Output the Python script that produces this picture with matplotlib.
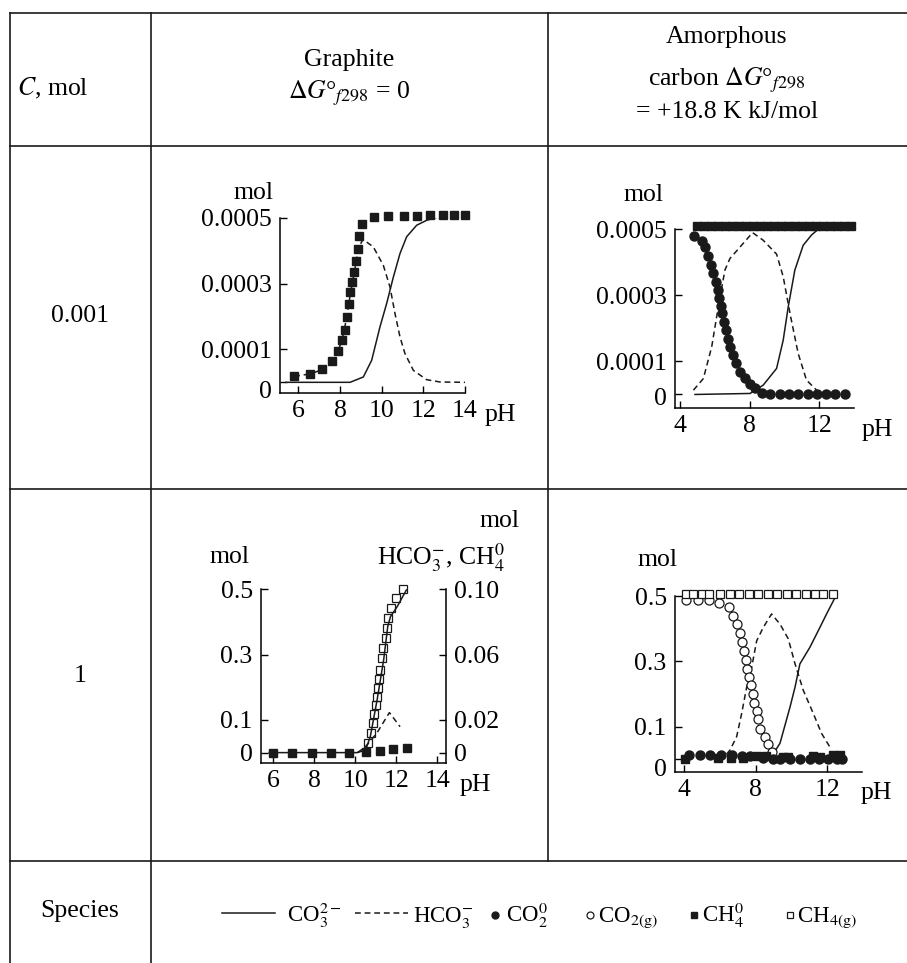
import matplotlib
matplotlib.use('Agg')
import matplotlib.pyplot as plt
from matplotlib.transforms import ScaledTranslation

plt.rcParams['font.family'] = ['Liberation Serif', 'DejaVu Serif']
plt.rcParams['mathtext.fontset'] = 'stix'
plt.rcParams['font.size'] = 18.5

W, H = 907, 963
K = '#1a1a1a'

# graphite, C = 0.001 mol
g1_sq_ph = [5.8, 6.55, 7.15, 7.6, 7.9, 8.1, 8.25, 8.33, 8.42, 8.5, 8.58, 8.68,
            8.77, 8.86, 8.93, 9.05, 9.65, 10.3, 11.05, 11.7, 12.3, 12.95, 13.45, 14.0]
g1_sq_mol = [0.000018, 0.000026, 0.000042, 0.000065, 0.000095, 0.000128, 0.00016,
             0.000199, 0.000238, 0.000275, 0.000306, 0.000336, 0.00037, 0.000407,
             0.000445, 0.000483, 0.000504, 0.000507, 0.000507, 0.000507, 0.000508,
             0.000508, 0.000508, 0.000508]
g1_hco3_ph = [5.8, 6.6, 7.2, 7.6, 7.9, 8.1, 8.3, 8.5, 8.7, 8.9, 9.1, 9.6, 10.08,
              10.4, 10.64, 10.88, 11.12, 11.52, 12.16, 12.8, 14.0]
g1_hco3_mol = [0.000018, 0.000026, 0.00004, 0.000065, 0.000095, 0.000128, 0.00019,
               0.00027, 0.00034, 0.00041, 0.000435, 0.000412, 0.000356, 0.00029,
               0.000209, 0.000138, 0.0000873, 0.0000365, 0.000008, 0.000001, 0.0]
g1_co3_ph = [5.4, 8.48, 9.12, 9.52, 9.92, 10.24, 10.56, 10.88, 11.2, 11.68, 12.16, 12.64, 14.0]
g1_co3_mol = [0, 0, 0.0000162, 0.000067, 0.000169, 0.00024, 0.00032, 0.000392,
              0.000443, 0.000478, 0.000493, 0.000502, 0.000505]

# amorphous carbon, C = 0.001 mol
a1_sq_ph = [5.0, 5.4, 5.8, 6.2, 6.6, 7.0, 7.4, 7.8, 8.2, 8.6, 9.0, 9.4, 9.8, 10.2,
            10.6, 11.0, 11.4, 11.8, 12.2, 12.6, 13.0, 13.4, 13.8]
a1_sq_mol = [0.000508] * 23
a1_co2_ph = [4.8, 5.24, 5.44, 5.63, 5.78, 5.91, 6.05, 6.16, 6.26, 6.33, 6.43, 6.53,
             6.64, 6.74, 6.87, 7.02, 7.2, 7.44, 7.73, 8.02, 8.31, 8.69, 9.17, 9.74,
             10.28, 10.79, 11.37, 11.85, 12.38, 12.9, 13.47]
a1_co2_mol = [0.000479, 0.000463, 0.000446, 0.000418, 0.00039, 0.000366, 0.00034,
              0.000315, 0.00029, 0.000267, 0.000245, 0.00022, 0.000194, 0.000169,
              0.000144, 0.000119, 0.0000937, 0.0000685, 0.0000484, 0.0000312,
              0.0000181, 0.000005, 0.0, 0.0, 0.0, 0.0, 0.0, 0.0, 0.0, 0.0, 0.0]
a1_hco3_ph = [4.77, 5.34, 5.82, 6.2, 6.58, 6.87, 7.54, 8.17, 8.78, 9.55, 9.93, 10.32,
              10.79, 11.27, 11.85, 12.04]
a1_hco3_mol = [0.000013, 0.000048, 0.000144, 0.000265, 0.000376, 0.000411, 0.000451,
               0.000489, 0.000466, 0.000424, 0.000356, 0.000245, 0.000124, 0.0000433,
               0.000013, 0.000003]
a1_co3_ph = [4.86, 8.02, 8.78, 9.55, 9.93, 10.22, 10.6, 11.08, 11.56, 11.94, 13.8]
a1_co3_mol = [0, 0.000003, 0.0000282, 0.0000786, 0.000164, 0.000265, 0.000376,
              0.000451, 0.000482, 0.000499, 0.0005]

# graphite, C = 1 mol (HCO3- and CH4 aq on the right axis)
g2_ch4aq_ph = [6.0, 6.9, 7.9, 8.8, 9.7, 10.5, 11.2, 11.85, 12.5]
g2_ch4aq_mol = [0, 0, 0, 0, 0, 0.0004, 0.0012, 0.002, 0.0027]
g2_ch4g_ph = [10.63, 10.75, 10.85, 10.91, 10.99, 11.04, 11.12, 11.17, 11.2, 11.3,
              11.37, 11.5, 11.53, 11.59, 11.72, 11.97, 12.31]
g2_ch4g_mol = [0.0286, 0.059, 0.09, 0.118, 0.146, 0.169, 0.197, 0.224, 0.253, 0.289,
               0.319, 0.35, 0.381, 0.411, 0.442, 0.472, 0.5]
g2_co3_ph = [5.8, 10.1, 10.5, 10.73, 11.06, 11.38, 11.58, 11.71, 12.04, 12.49]
g2_co3_mol = [0, 0, 0.008, 0.049, 0.161, 0.284, 0.386, 0.416, 0.447, 0.498]
g2_hco3_ph = [10.1, 10.47, 11.04, 11.66, 12.18]
g2_hco3_mol = [0, 0.0033, 0.0118, 0.0245, 0.0159]

# amorphous carbon, C = 1 mol
a2_ch4g_ph = [4.11, 4.52, 4.98, 5.41, 6.0, 6.56, 7.08, 7.64, 8.14, 8.7, 9.22, 9.76,
              10.28, 10.8, 11.3, 11.77, 12.3]
a2_ch4g_mol = [0.505] * 17
a2_co2g_ph = [4.11, 4.8, 5.41, 5.97, 6.51, 6.72, 6.94, 7.13, 7.26, 7.35, 7.46, 7.53,
              7.65, 7.74, 7.83, 7.93, 8.06, 8.15, 8.24, 8.52, 8.71, 8.89]
a2_co2g_mol = [0.487, 0.487, 0.487, 0.48, 0.465, 0.44, 0.414, 0.386, 0.358, 0.333,
               0.305, 0.277, 0.252, 0.226, 0.2, 0.173, 0.148, 0.122, 0.094, 0.069,
               0.046, 0.023]
a2_hco3_ph = [6.38, 6.57, 6.94, 7.22, 7.5, 7.78, 8.06, 8.43, 8.89, 9.36, 9.82, 10.2,
              10.66, 11.22, 11.68, 12.15]
a2_hco3_mol = [0.016, 0.028, 0.069, 0.14, 0.221, 0.282, 0.363, 0.404, 0.445, 0.414,
               0.369, 0.292, 0.211, 0.14, 0.079, 0.037]
a2_co3_ph = [8.89, 9.36, 9.92, 10.2, 10.47, 11.03, 11.59, 11.96, 12.43]
a2_co3_mol = [0.008, 0.049, 0.16, 0.221, 0.292, 0.343, 0.404, 0.445, 0.495]
a2_co2aq_ph = [4.3, 4.9, 5.45, 6.05, 6.66, 7.22, 7.68, 8.43, 8.95, 9.36, 9.92, 10.47,
               11.03, 11.55, 12.05, 12.56, 12.8]
a2_co2aq_mol = [0.012, 0.012, 0.013, 0.013, 0.012, 0.01, 0.01, 0.005, 0, 0, 0, 0,
                0, 0, 0, 0, 0]
a2_ch4aq_ph = [4.05, 5.9, 6.6, 7.3, 8.1, 8.6, 9.5, 9.8, 11.2, 11.6, 12.3, 12.7]
a2_ch4aq_mol = [0, 0.004, 0.004, 0.004, 0.01, 0.01, 0.008, 0.008, 0.01, 0.008, 0.012, 0.012]

ticks_small = [0, 0.0001, 0.0003, 0.0005]
labels_small = ['0', '0.0001', '0.0003', '0.0005']
ticks_big = [0, 0.1, 0.3, 0.5]
labels_big = ['0', '0.1', '0.3', '0.5']

fig = plt.figure(figsize=(W / 100, H / 100), dpi=100)
bg = fig.add_axes([0, 0, 1, 1])
bg.set_xlim(0, W)
bg.set_ylim(H, 0)
bg.axis('off')


def box(x0, y0, x1, y1):
    return [x0 / W, 1 - y1 / H, (x1 - x0) / W, (y1 - y0) / H]


# table grid
for y in [13, 146, 489, 861]:
    bg.plot([10, W], [y, y], color=K, lw=1.2)
bg.plot([10, 10], [13, H], color=K, lw=1.2)
bg.plot([151, 151], [13, H], color=K, lw=1.2)
bg.plot([548, 548], [13, 861], color=K, lw=1.2)

dg = r'$\Delta G$°$_{f298}$'
bg.text(17, 95, '$C$, mol', ha='left', va='baseline')
bg.text(349.5, 66, 'Graphite', ha='center', va='baseline')
bg.text(349.5, 98, dg + ' = 0', ha='center', va='baseline')
bg.text(727, 43, 'Amorphous', ha='center', va='baseline')
bg.text(727, 85, 'carbon ' + dg, ha='center', va='baseline')
bg.text(727, 118, '= +18.8 K kJ/mol', ha='center', va='baseline')
bg.text(80, 322, '0.001', ha='center', va='baseline')
bg.text(80, 682, '1', ha='center', va='baseline')
bg.text(80, 917, 'Species', ha='center', va='baseline')


def style(ax, xlim, ylim, xticks, yticks, ylabels, zero_drop=0):
    ax.set_xlim(*xlim)
    ax.set_ylim(*ylim)
    ax.spines['top'].set_visible(False)
    ax.spines['right'].set_visible(False)
    for s in ax.spines.values():
        s.set_linewidth(1.1)
    ax.set_xticks(xticks)
    ax.set_xticklabels([str(t) for t in xticks])
    ax.set_yticks(yticks)
    ax.set_yticklabels(ylabels)
    ax.tick_params(direction='in', length=5, width=1, labelsize=18.5)
    ax.tick_params(axis='x', pad=5)
    ax.tick_params(axis='y', pad=6)
    ax.patch.set_alpha(0)
    if zero_drop:
        lab = ax.get_yticklabels()[0]
        lab.set_transform(lab.get_transform() +
                          ScaledTranslation(0, -zero_drop / 100, fig.dpi_scale_trans))


line_kw = dict(color=K, lw=1.1)
dash_kw = dict(color=K, lw=1.1, ls=(0, (3.8, 2.5)))

# panel 1
ax1 = fig.add_axes(box(280, 218, 465, 393))
style(ax1, (5.12, 14), (-0.0000325, 0.0005), [6, 8, 10, 12, 14], ticks_small, labels_small, 7)
ax1.plot(g1_co3_ph, g1_co3_mol, **line_kw)
ax1.plot(g1_hco3_ph, g1_hco3_mol, **dash_kw)
ax1.plot(g1_sq_ph, g1_sq_mol, 's', color=K, ms=6, clip_on=False)
bg.text(253, 193, 'mol', ha='center', va='center')
bg.text(500, 415, 'pH', ha='center', va='center')

# panel 2
ax2 = fig.add_axes(box(675, 229, 854, 407.7))
style(ax2, (3.71, 14), (-0.00004, 0.0005), [4, 8, 12], ticks_small, labels_small, 2)
ax2.plot(a1_co3_ph, a1_co3_mol, **line_kw)
ax2.plot(a1_hco3_ph, a1_hco3_mol, **dash_kw)
ax2.plot(a1_sq_ph, a1_sq_mol, 's', color=K, ms=5.5, clip_on=False)
ax2.plot(a1_co2_ph, a1_co2_mol, 'o', color=K, ms=6.5, clip_on=False)
bg.text(644, 195, 'mol', ha='center', va='center')
bg.text(877, 430, 'pH', ha='center', va='center')

# panel 3
ax3 = fig.add_axes(box(261, 589.3, 446, 763.3))
style(ax3, (5.4, 14.42), (-0.0327, 0.5), [6, 8, 10, 12, 14], ticks_big, labels_big)
ax3r = ax3.twinx()
ax3r.set_ylim(-0.00654, 0.1)
ax3r.spines['top'].set_visible(False)
ax3r.spines['left'].set_visible(False)
ax3r.spines['bottom'].set_visible(False)
ax3r.spines['right'].set_linewidth(1.1)
ax3r.set_yticks([0, 0.02, 0.06, 0.10])
ax3r.set_yticklabels(['0', '0.02', '0.06', '0.10'])
ax3r.tick_params(direction='in', length=5, width=1, labelsize=18.5, pad=6)
ax3.plot(g2_co3_ph, g2_co3_mol, **line_kw)
ax3.plot(g2_ch4g_ph, g2_ch4g_mol, 's', mfc='none', mec=K, mew=0.9, ms=6, clip_on=False)
ax3r.plot(g2_hco3_ph, g2_hco3_mol, **dash_kw)
ax3r.plot(g2_ch4aq_ph, g2_ch4aq_mol, 's', color=K, ms=6, clip_on=False)
bg.text(230, 557, 'mol', ha='center', va='center')
bg.text(520, 521, 'mol', ha='right', va='center')
bg.text(505, 558, r'HCO$_3^{-}$, CH$_4^0$', ha='right', va='center')
bg.text(475, 785, 'pH', ha='center', va='center')

# panel 4
ax4 = fig.add_axes(box(675, 596, 861.7, 772.3))
style(ax4, (3.5, 13.92), (-0.04, 0.5), [4, 8, 12], ticks_big, labels_big, 8)
ax4.plot(a2_co3_ph, a2_co3_mol, **line_kw)
ax4.plot(a2_hco3_ph, a2_hco3_mol, **dash_kw)
ax4.plot(a2_co2g_ph, a2_co2g_mol, 'o', mfc='white', mec=K, mew=0.9, ms=6.5, clip_on=False)
ax4.plot(a2_ch4g_ph, a2_ch4g_mol, 's', mfc='white', mec=K, mew=0.9, ms=6, clip_on=False)
ax4.plot(a2_ch4aq_ph, a2_ch4aq_mol, 's', color=K, ms=6, clip_on=False)
ax4.plot(a2_co2aq_ph, a2_co2aq_mol, 'o', color=K, ms=6.5, clip_on=False)
bg.text(657, 560, 'mol', ha='center', va='center')
bg.text(876, 793, 'pH', ha='center', va='center')

# species legend row
fs = 16.5
bg.plot([222, 275], [913, 913], **line_kw)
bg.text(287, 922, r'CO$_3^{2-}$', fontsize=fs, va='baseline')
bg.plot([355, 408], [913, 913], **dash_kw)
bg.text(413, 922, r'HCO$_3^{-}$', fontsize=fs, va='baseline')
bg.plot([495], [915], 'o', color=K, ms=5)
bg.text(506, 922, r'CO$_2^0$', fontsize=fs, va='baseline')
bg.plot([590], [915], 'o', mfc='white', mec=K, mew=0.9, ms=5)
bg.text(598, 922, r'CO$_{2(\mathrm{g})}$', fontsize=fs, va='baseline')
bg.plot([694], [915], 's', color=K, ms=4.5)
bg.text(702, 922, r'CH$_4^0$', fontsize=fs, va='baseline')
bg.plot([790], [915], 's', mfc='white', mec=K, mew=0.9, ms=4.5)
bg.text(797, 922, r'CH$_{4(\mathrm{g})}$', fontsize=fs, va='baseline')

fig.savefig('out.png', dpi=100)
